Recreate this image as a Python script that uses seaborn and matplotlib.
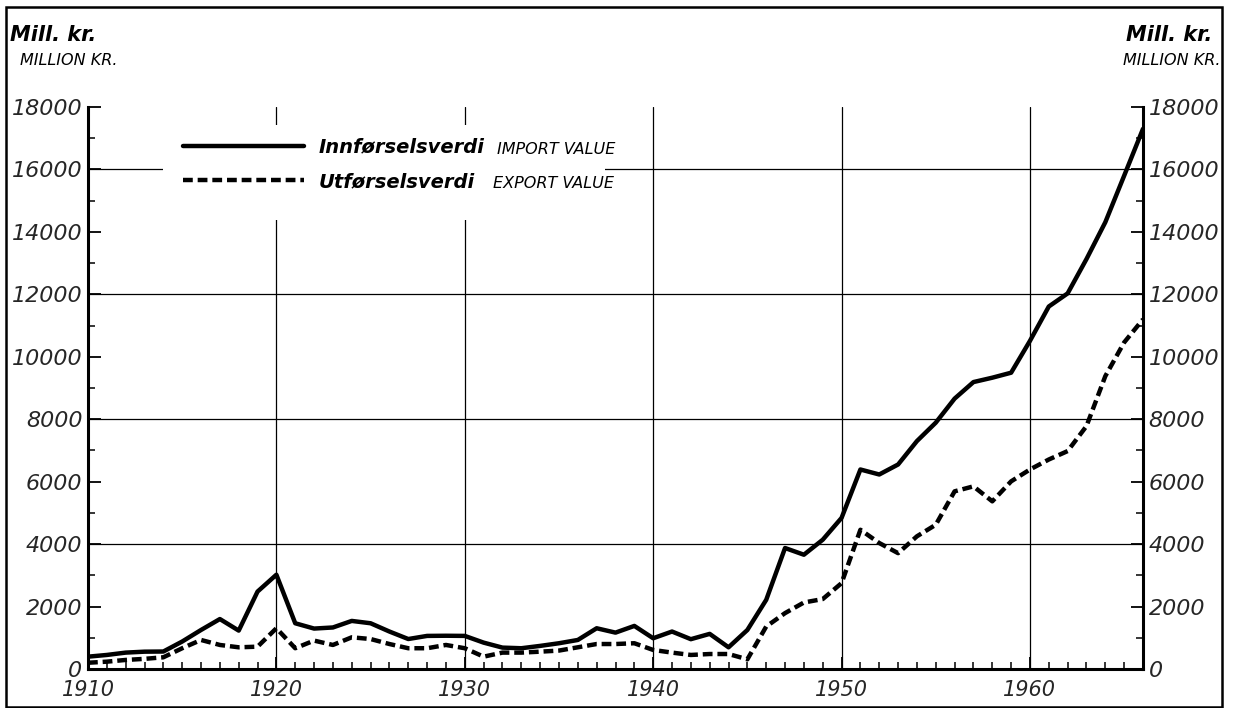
import matplotlib
matplotlib.use("Agg")
import matplotlib.pyplot as plt
from matplotlib.patches import Rectangle
from matplotlib.ticker import MultipleLocator
import pandas as pd
import seaborn as sns

# Norwegian foreign trade, million kroner, 1910-1966
years = list(range(1910, 1967))
import_value = [
    395, 450, 525, 555, 560, 880, 1250, 1600, 1230, 2480,
    3020, 1465, 1295, 1330, 1540, 1465, 1200, 960, 1060, 1065,
    1060, 845, 685, 665, 740, 825, 930, 1305, 1165, 1380,
    985, 1200, 955, 1125, 695, 1250, 2215, 3875, 3660, 4140,
    4840, 6390, 6230, 6550, 7300, 7890, 8660, 9190, 9330, 9490,
    10510, 11610, 12030, 13130, 14310, 15800, 17300,
]
export_value = [
    200, 235, 290, 325, 375, 665, 930, 770, 695, 715,
    1305, 665, 910, 770, 1015, 960, 800, 665, 665, 770,
    665, 395, 525, 525, 555, 590, 695, 800, 800, 825,
    610, 525, 450, 480, 480, 310, 1360, 1790, 2130, 2240,
    2750, 4460, 4035, 3710, 4250, 4620, 5690, 5850, 5370, 6010,
    6390, 6710, 6980, 7780, 9380, 10460, 11200,
]
series_names = ["Innførselsverdi", "Utførselsverdi"]
series_english = ["IMPORT VALUE", "EXPORT VALUE"]
x_ticks = [1910, 1920, 1930, 1940, 1950, 1960]
y_ticks = list(range(0, 18001, 2000))
grid_y = [4000, 8000, 12000, 16000]
grid_x = [1920, 1930, 1940, 1950, 1960]

df = pd.DataFrame({
    "year": years * 2,
    "value": import_value + export_value,
    "series": [series_names[0]] * len(years) + [series_names[1]] * len(years),
})

sns.set_style("ticks")
plt.rcParams["font.family"] = ["DejaVu Sans"]
plt.rcParams["font.style"] = "italic"
plt.rcParams["text.color"] = "black"

fig = plt.figure(figsize=(12.34, 7.08), dpi=100)
ax = fig.add_axes([88 / 1234, 1 - 669 / 708, 1055 / 1234, 562 / 708])

sns.lineplot(
    data=df, x="year", y="value", style="series", style_order=series_names,
    dashes={series_names[0]: "", series_names[1]: (2.2, 1.1)},
    color="black", linewidth=3.2, legend=False, ax=ax, zorder=3,
)
data_lines = ax.get_lines()[:2]

# grid every 4000 kr and every decade
for yv in grid_y:
    ax.axhline(yv, color="black", lw=0.9, zorder=1)
for xv in grid_x:
    ax.axvline(xv, color="black", lw=0.9, zorder=1)

# blank area behind the key
ax.add_patch(Rectangle((0.071, 0.799), 0.419, 0.169, transform=ax.transAxes,
                       facecolor="white", edgecolor="none", zorder=1.5))

ax.set_xlim(1910, 1966)
ax.set_ylim(0, 18000)
ax.set_xlabel("")
ax.set_ylabel("")
ax.set_xticks(x_ticks)
ax.set_yticks(y_ticks)
ax.xaxis.set_minor_locator(MultipleLocator(1))
ax.yaxis.set_minor_locator(MultipleLocator(1000))

for side in ["left", "right", "bottom"]:
    ax.spines[side].set_visible(True)
    ax.spines[side].set_linewidth(2.2)
    ax.spines[side].set_color("black")
ax.spines["top"].set_visible(False)

ax.tick_params(axis="both", which="both", direction="in", color="black")
ax.tick_params(axis="y", which="both", left=True, right=True,
               labelleft=True, labelright=True)
ax.tick_params(axis="x", which="both", top=False, bottom=True)
ax.tick_params(which="major", length=9, width=1.3)
ax.tick_params(which="minor", length=5, width=1.1)
ax.tick_params(axis="y", which="major", labelsize=16, pad=4)
ax.tick_params(axis="x", which="major", labelsize=15, pad=8)
for lab in ax.get_xticklabels() + ax.get_yticklabels():
    lab.set_fontstyle("italic")

leg = ax.legend(
    data_lines, series_names, loc="upper left",
    bbox_to_anchor=(0.081, 0.963), frameon=False, borderpad=0,
    handlelength=6.2, handletextpad=0.75, labelspacing=0.8,
    prop={"size": 14, "weight": "bold", "style": "italic"},
)
leg.set_zorder(6)

for txt, yy, xx in zip(series_english, [0.925, 0.863], [0.388, 0.384]):
    ax.text(xx, yy, txt, transform=ax.transAxes, fontsize=11.5,
            style="italic", va="center", ha="left", zorder=7)

# unit captions on both sides
fig.text(0.008, 0.951, "Mill. kr.", fontsize=15, weight="bold", style="italic",
         ha="left", va="center")
fig.text(0.016, 0.915, "MILLION KR.", fontsize=11.5, style="italic",
         ha="left", va="center")
fig.text(0.982, 0.951, "Mill. kr.", fontsize=15, weight="bold", style="italic",
         ha="right", va="center")
fig.text(0.989, 0.915, "MILLION KR.", fontsize=11.5, style="italic",
         ha="right", va="center")

# frame around the whole sheet
fig.patches.append(Rectangle((6 / 1234, 1 / 708), 1216 / 1234, 700 / 708,
                             transform=fig.transFigure, fill=False,
                             edgecolor="black", linewidth=1.8))

fig.savefig("out.png", dpi=100)
